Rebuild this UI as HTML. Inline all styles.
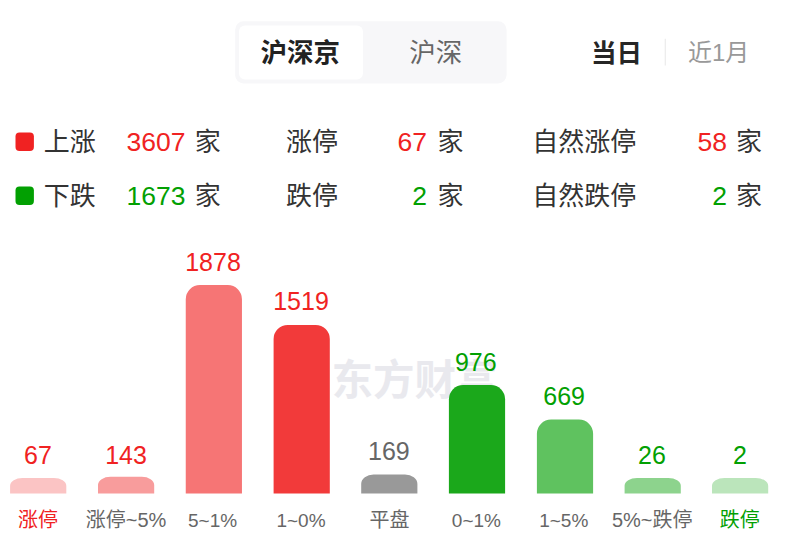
<!DOCTYPE html>
<html lang="zh"><head><meta charset="utf-8"><title>涨跌分布</title><style>
html,body{margin:0;padding:0;background:#fff}
#r{position:relative;width:788px;height:552px;overflow:hidden;background:#fff;font-family:"Liberation Sans",sans-serif}
.b{position:absolute}
.n{position:absolute;white-space:nowrap;transform-origin:0 0;will-change:transform;font-family:"Liberation Sans",sans-serif}
.h{position:absolute;color:transparent;overflow:hidden;white-space:nowrap;line-height:1;font-family:"Liberation Sans",sans-serif;opacity:0}
svg{position:absolute;left:0;top:0}
</style></head><body><div id="r">
<svg width="788" height="552" viewBox="0 0 788 552" aria-hidden="true">
<g id="boxes">
<rect x="235.15" y="21.15" width="271.45" height="62.4" rx="8.5" fill="#f7f7f9"/>
<rect x="239" y="25.4" width="123.9" height="54.1" rx="6" fill="#ffffff"/>
<rect x="664.75" y="38.75" width="1" height="26.75" fill="#e8e8e8"/>
<rect x="15.5" y="132.40" width="18.4" height="18.7" rx="4" fill="#f02222"/>
<rect x="15.5" y="186.40" width="18.4" height="18.7" rx="4" fill="#02a002"/>
</g>
<g id="watermark"><text x="414.5" y="394.5" text-anchor="middle" font-size="41.5" font-weight="bold" fill="#e9e9ee" font-family="&quot;Liberation Sans&quot;, &quot;Noto Sans CJK SC&quot;, sans-serif">东方财富</text></g>
<g id="bars">
<path fill="rgb(251,196,196)" d="M10.10 493.40V485.75A12.40 7.65 0 0 1 22.50 478.10H53.90A12.40 7.65 0 0 1 66.30 485.75V493.40Z"/>
<path fill="rgb(248,156,156)" d="M98.00 493.40V485.10A12.40 8.30 0 0 1 110.40 476.80H141.80A12.40 8.30 0 0 1 154.20 485.10V493.40Z"/>
<path fill="rgb(246,117,117)" d="M185.75 493.40V299.20A14.20 14.20 0 0 1 199.95 285.00H227.75A14.20 14.20 0 0 1 241.95 299.20V493.40Z"/>
<path fill="rgb(242,58,58)" d="M273.60 493.40V339.10A14.20 14.20 0 0 1 287.80 324.90H315.60A14.20 14.20 0 0 1 329.80 339.10V493.40Z"/>
<path fill="#999999" d="M361.20 493.40V484.00A12.40 9.40 0 0 1 373.60 474.60H405.00A12.40 9.40 0 0 1 417.40 484.00V493.40Z"/>
<path fill="rgb(27,168,27)" d="M448.90 493.40V399.20A14.20 14.20 0 0 1 463.10 385.00H490.90A14.20 14.20 0 0 1 505.10 399.20V493.40Z"/>
<path fill="rgb(95,194,95)" d="M536.90 493.40V433.70A14.20 14.20 0 0 1 551.10 419.50H578.90A14.20 14.20 0 0 1 593.10 433.70V493.40Z"/>
<path fill="rgb(141,211,141)" d="M624.60 493.40V485.70A12.40 7.70 0 0 1 637.00 478.00H668.40A12.40 7.70 0 0 1 680.80 485.70V493.40Z"/>
<path fill="rgb(187,229,187)" d="M712.00 493.40V485.70A12.40 7.70 0 0 1 724.40 478.00H755.80A12.40 7.70 0 0 1 768.20 485.70V493.40Z"/>
</g>
<g id="glyphs" font-family="&quot;Liberation Sans&quot;, &quot;Noto Sans CJK SC&quot;, sans-serif">
<text x="300.2" y="61.5" text-anchor="middle" font-size="26.5" font-weight="bold" fill="#222222">沪深京</text>
<text x="435.75" y="61.5" text-anchor="middle" font-size="26.5" fill="#666666">沪深</text>
<text x="616.5" y="61.5" text-anchor="middle" font-size="25.5" font-weight="bold" fill="#262626">当日</text>
<text x="688" y="61.3" font-size="24" fill="#999999">近1月</text>

<text x="69.75" y="151" text-anchor="middle" font-size="26" fill="#333333">上涨</text>
<text x="185.5" y="151" text-anchor="end" font-size="26.5" fill="#f02222">3607</text>
<text x="207.8" y="151" text-anchor="middle" font-size="26" fill="#333333">家</text>
<text x="311.9" y="151" text-anchor="middle" font-size="26" fill="#333333">涨停</text>
<text x="427" y="151" text-anchor="end" font-size="26.5" fill="#f02222">67</text>
<text x="450.4" y="151" text-anchor="middle" font-size="26" fill="#333333">家</text>
<text x="584.25" y="151" text-anchor="middle" font-size="26" fill="#333333">自然涨停</text>
<text x="727" y="151" text-anchor="end" font-size="26.5" fill="#f02222">58</text>
<text x="748.9" y="151" text-anchor="middle" font-size="26" fill="#333333">家</text>

<text x="69.75" y="205" text-anchor="middle" font-size="26" fill="#333333">下跌</text>
<text x="185.5" y="205" text-anchor="end" font-size="26.5" fill="#02a002">1673</text>
<text x="207.8" y="205" text-anchor="middle" font-size="26" fill="#333333">家</text>
<text x="311.9" y="205" text-anchor="middle" font-size="26" fill="#333333">跌停</text>
<text x="427" y="205" text-anchor="end" font-size="26.5" fill="#02a002">2</text>
<text x="450.4" y="205" text-anchor="middle" font-size="26" fill="#333333">家</text>
<text x="584.25" y="205" text-anchor="middle" font-size="26" fill="#333333">自然跌停</text>
<text x="727" y="205" text-anchor="end" font-size="26.5" fill="#02a002">2</text>
<text x="748.9" y="205" text-anchor="middle" font-size="26" fill="#333333">家</text>

<text x="37.9" y="463.6" text-anchor="middle" font-size="25" fill="#f02222">67</text>
<text x="126" y="463.5" text-anchor="middle" font-size="25" fill="#f02222">143</text>
<text x="213" y="270.5" text-anchor="middle" font-size="25" fill="#f02222">1878</text>
<text x="301" y="310.4" text-anchor="middle" font-size="25" fill="#f02222">1519</text>
<text x="388.9" y="460.1" text-anchor="middle" font-size="25" fill="#666666">169</text>
<text x="475.8" y="370.5" text-anchor="middle" font-size="25" fill="#02a002">976</text>
<text x="564.1" y="405" text-anchor="middle" font-size="25" fill="#02a002">669</text>
<text x="652" y="463.5" text-anchor="middle" font-size="25" fill="#02a002">26</text>
<text x="740" y="463.5" text-anchor="middle" font-size="25" fill="#02a002">2</text>

<text x="38" y="527" text-anchor="middle" font-size="20" fill="#f02222">涨停</text>
<text x="126" y="527" text-anchor="middle" font-size="20" fill="#666666">涨停~5%</text>
<text x="212.6" y="527.1" text-anchor="middle" font-size="19" fill="#666666">5~1%</text>
<text x="301" y="527.1" text-anchor="middle" font-size="19" fill="#666666">1~0%</text>
<text x="389.4" y="527" text-anchor="middle" font-size="20" fill="#666666">平盘</text>
<text x="476.4" y="527.1" text-anchor="middle" font-size="19" fill="#666666">0~1%</text>
<text x="563.75" y="527.1" text-anchor="middle" font-size="19" fill="#666666">1~5%</text>
<text x="652.2" y="527" text-anchor="middle" font-size="20" fill="#666666">5%~跌停</text>
<text x="739.75" y="527" text-anchor="middle" font-size="20" fill="#02a002">跌停</text>
</g>
</svg>
<span class="h" style="left:260.7px;top:39.8px;width:79.1px;height:24.7px;font-size:21.6px">沪深京</span>
<span class="h" style="left:409.5px;top:40.0px;width:52.5px;height:24.5px;font-size:21.6px">沪深</span>
<span class="h" style="left:592.6px;top:40.6px;width:47.8px;height:23.8px;font-size:21.6px">当日</span>
<span class="h" style="left:688px;top:40px;width:60px;height:25px;font-size:20px">近1月</span>
<span class="h" style="left:43.8px;top:129.5px;width:52.0px;height:24.5px;font-size:21.6px">上涨</span>
<span class="h" style="left:196.2px;top:129.5px;width:23.2px;height:24.5px;font-size:21.6px">家</span>
<span class="h" style="left:286.2px;top:129.5px;width:51.2px;height:24.5px;font-size:21.6px">涨停</span>
<span class="h" style="left:438.8px;top:129.5px;width:23.2px;height:24.5px;font-size:21.6px">家</span>
<span class="h" style="left:533.0px;top:129.5px;width:102.5px;height:24.5px;font-size:21.6px">自然涨停</span>
<span class="h" style="left:737.2px;top:129.5px;width:23.2px;height:24.5px;font-size:21.6px">家</span>
<span class="h" style="left:43.8px;top:183.5px;width:52.0px;height:24.5px;font-size:21.6px">下跌</span>
<span class="h" style="left:196.2px;top:183.5px;width:23.2px;height:24.5px;font-size:21.6px">家</span>
<span class="h" style="left:286.2px;top:183.5px;width:51.2px;height:24.5px;font-size:21.6px">跌停</span>
<span class="h" style="left:438.8px;top:183.5px;width:23.2px;height:24.5px;font-size:21.6px">家</span>
<span class="h" style="left:533.0px;top:183.5px;width:102.5px;height:24.5px;font-size:21.6px">自然跌停</span>
<span class="h" style="left:737.2px;top:183.5px;width:23.2px;height:24.5px;font-size:21.6px">家</span>
<span class="h" style="left:125.2px;top:131.7px;width:59.1px;height:20.0px;font-size:21.4px">3607</span>
<span class="h" style="left:398.2px;top:131.7px;width:27.8px;height:20.0px;font-size:21.4px">67</span>
<span class="h" style="left:695.7px;top:131.7px;width:30.0px;height:20.0px;font-size:21.4px">58</span>
<span class="h" style="left:130.2px;top:185.7px;width:54.1px;height:20.0px;font-size:21.4px">1673</span>
<span class="h" style="left:413.2px;top:185.7px;width:12.8px;height:20.0px;font-size:21.4px">2</span>
<span class="h" style="left:712.5px;top:185.7px;width:13.3px;height:20.0px;font-size:21.4px">2</span>
<span class="h" style="left:24.4px;top:444.5px;width:26.9px;height:19.9px;font-size:21.2px">67</span>
<span class="h" style="left:107.2px;top:444.4px;width:37.6px;height:19.9px;font-size:21.2px">143</span>
<span class="h" style="left:187.1px;top:251.4px;width:51.6px;height:19.9px;font-size:21.2px">1878</span>
<span class="h" style="left:276.8px;top:291.3px;width:47.8px;height:19.9px;font-size:21.2px">1519</span>
<span class="h" style="left:369.4px;top:441.0px;width:38.5px;height:19.9px;font-size:21.2px">169</span>
<span class="h" style="left:455.2px;top:351.4px;width:40.8px;height:19.9px;font-size:21.2px">976</span>
<span class="h" style="left:543.2px;top:385.9px;width:41.5px;height:19.9px;font-size:21.2px">669</span>
<span class="h" style="left:638.5px;top:444.4px;width:26.8px;height:19.9px;font-size:21.2px">26</span>
<span class="h" style="left:733.7px;top:444.4px;width:12.5px;height:19.9px;font-size:21.2px">2</span>
<span class="h" style="left:18.0px;top:510.2px;width:40.0px;height:18.8px;font-size:16.6px">涨停</span>
<span class="h" style="left:85px;top:510px;width:82px;height:19px;font-size:16px">涨停~5%</span>
<span class="h" style="left:370.0px;top:510.2px;width:38.8px;height:18.8px;font-size:16.6px">平盘</span>
<span class="h" style="left:611px;top:510px;width:82px;height:19px;font-size:16px">5%~跌停</span>
<span class="h" style="left:719.8px;top:510.2px;width:40.0px;height:18.8px;font-size:16.6px">跌停</span>
<span class="h" style="left:188.3px;top:511.6px;width:48.6px;height:16.2px;font-size:17.3px">5~1%</span>
<span class="h" style="left:277.1px;top:511.6px;width:47.8px;height:16.2px;font-size:17.3px">1~0%</span>
<span class="h" style="left:452.1px;top:511.6px;width:48.5px;height:16.2px;font-size:17.3px">0~1%</span>
<span class="h" style="left:539.6px;top:511.6px;width:48.3px;height:16.2px;font-size:17.3px">1~5%</span>
<span class="h" style="left:329px;top:358px;width:170px;height:41px;font-size:34px">东方财富</span>
</div></body></html>
